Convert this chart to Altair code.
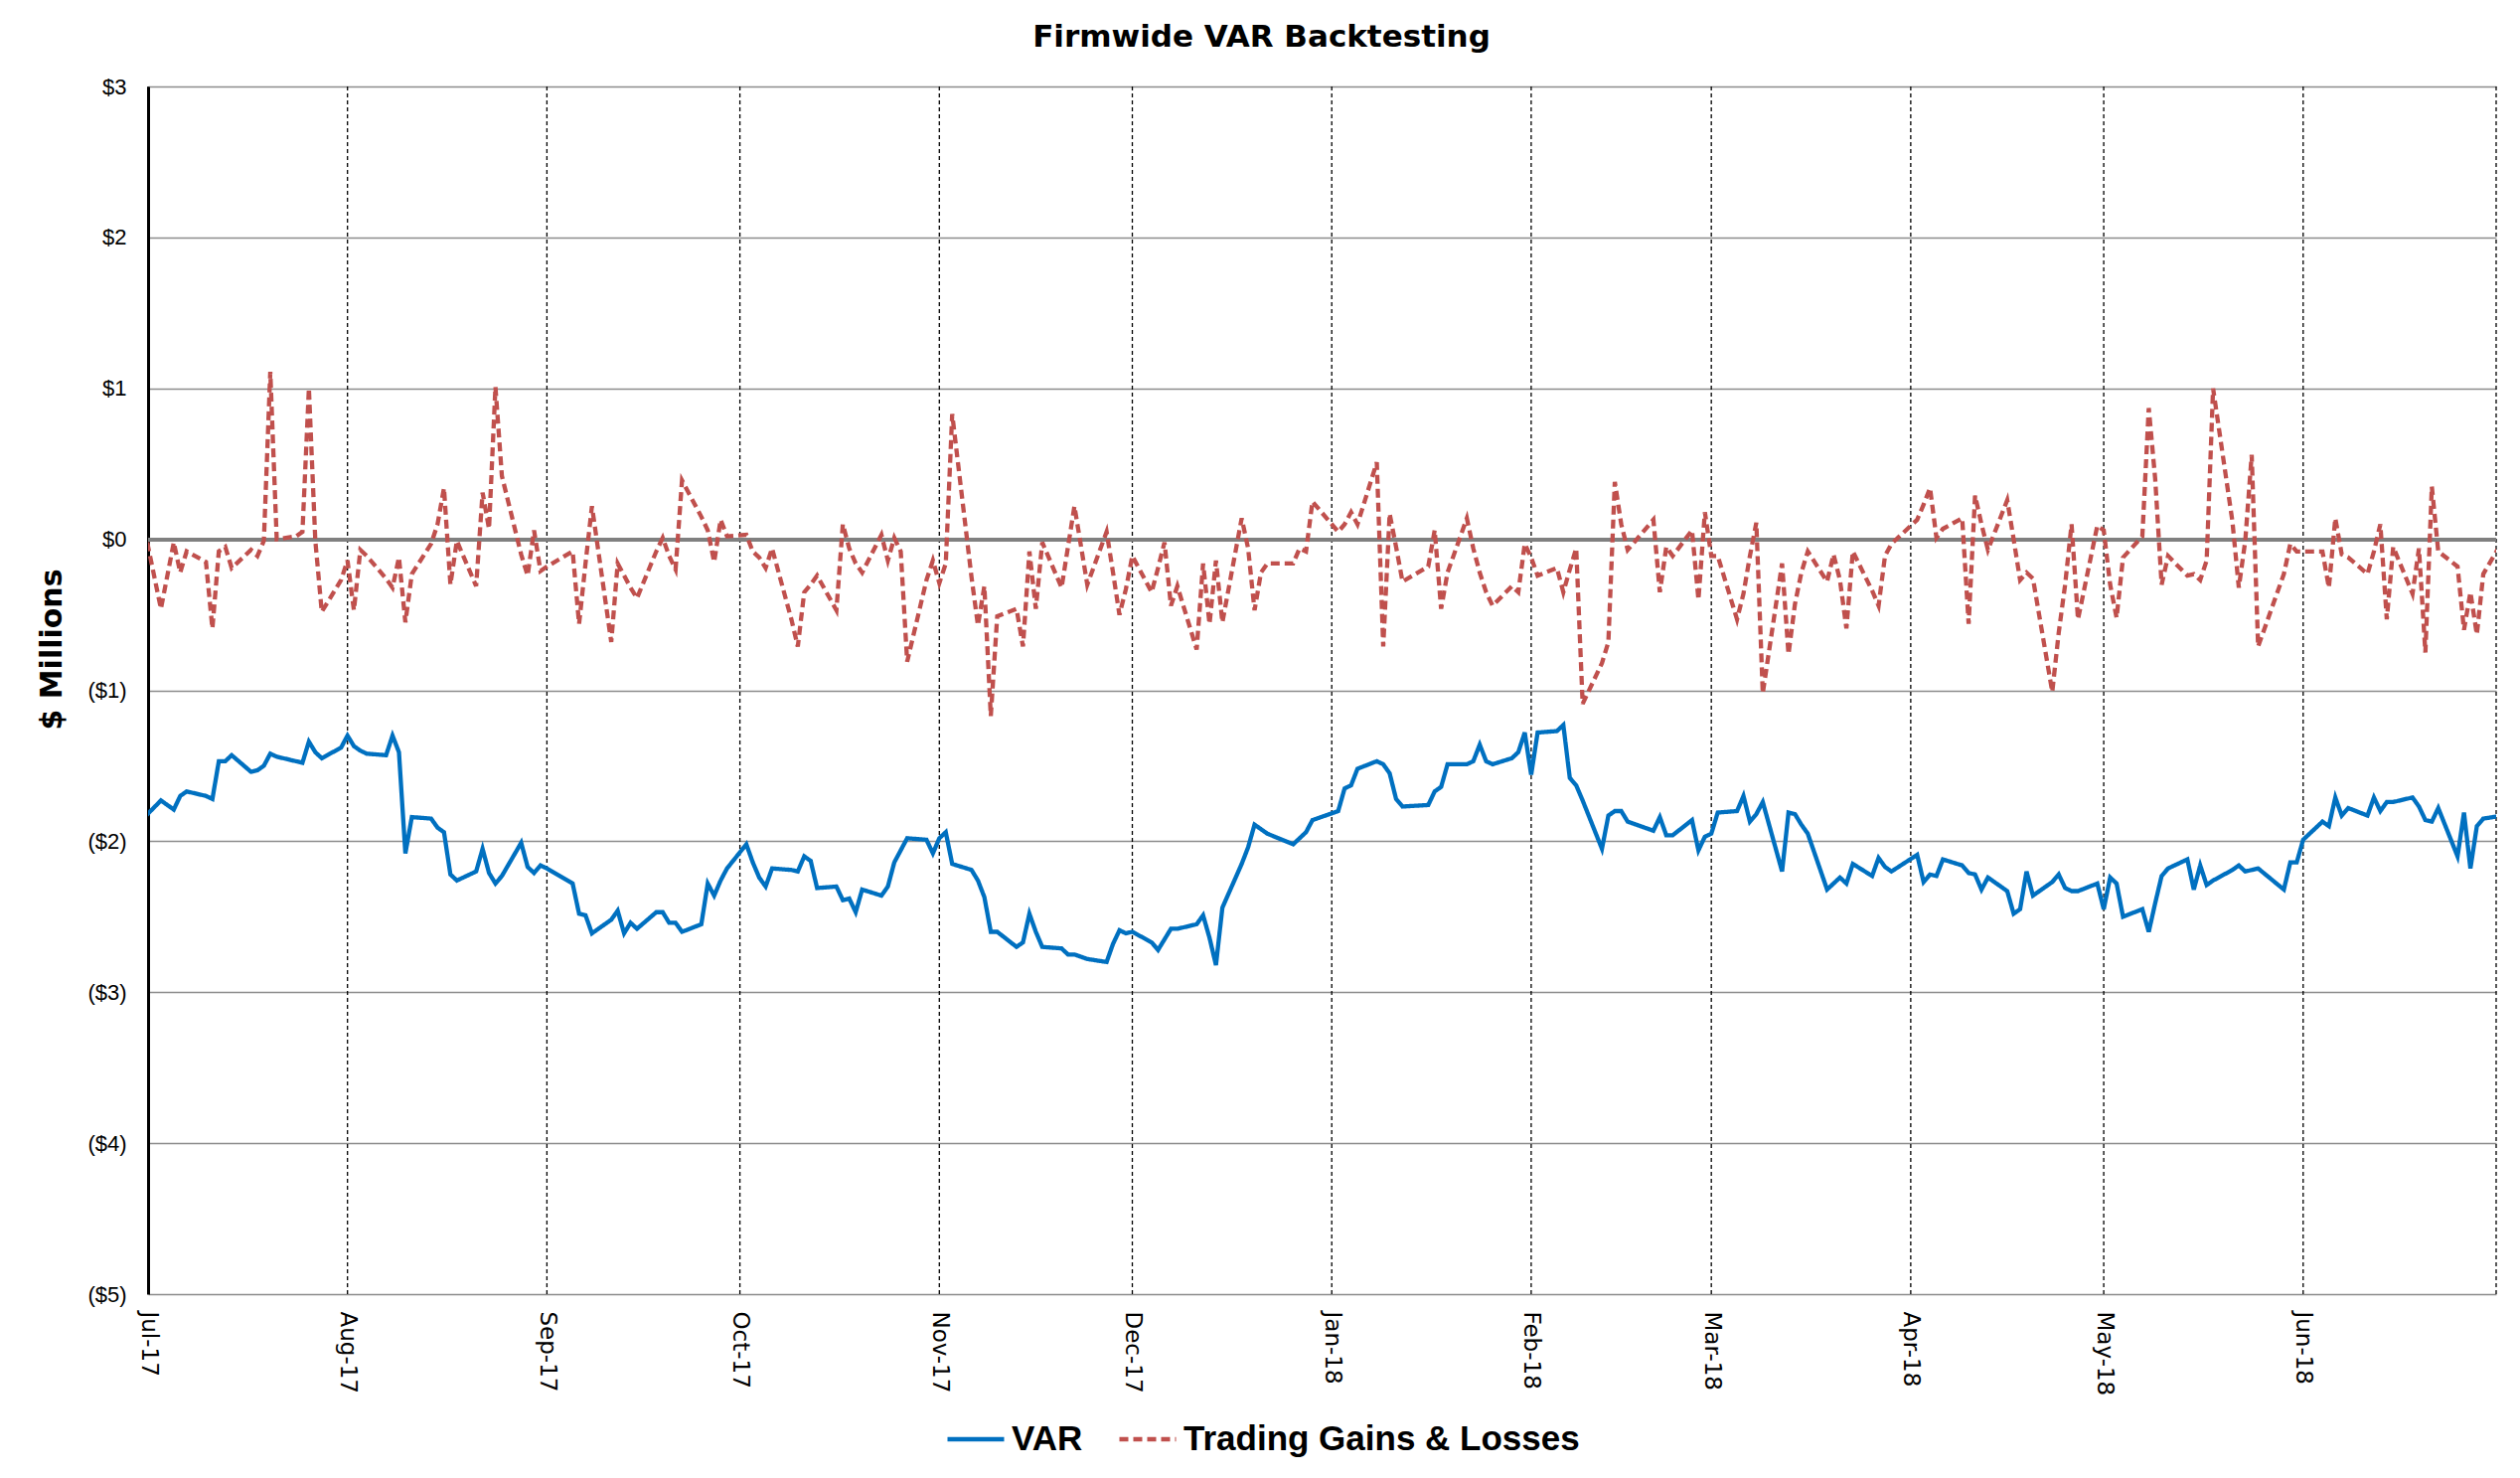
import altair as alt
import pandas as pd

# Exchange holidays inside the backtesting window (no P&L / VAR reported)
HOLIDAYS = ["2017-07-04", "2017-09-04", "2017-11-23", "2017-12-25", "2018-01-01",
            "2018-01-15", "2018-02-19", "2018-03-30", "2018-05-28"]

SERIES = ["VAR", "Trading Gains & Losses"]
COLORS = ["#0070C0", "#C0504D"]

# Daily 1-day VAR, $ millions (reported as a negative number)
VAR = [
    -1.86,  # Jun 30
    # Jul-17
    -1.73, -1.79, -1.70, -1.67, -1.70, -1.72, -1.47, -1.47, -1.43, -1.54,
    -1.53, -1.50, -1.42, -1.44, -1.47, -1.48, -1.34, -1.41, -1.45, -1.38,
    # Aug-17
    -1.30, -1.37, -1.40, -1.42, -1.43, -1.30, -1.41, -2.08, -1.84, -1.85,
    -1.91, -1.94, -2.22, -2.26, -2.20, -2.05, -2.21, -2.28, -2.23, -2.01,
    -2.17, -2.21, -2.16,
    # Sep-17
    -2.18, -2.28, -2.48, -2.49, -2.61, -2.52, -2.46, -2.61, -2.54, -2.58,
    -2.47, -2.47, -2.54, -2.54, -2.60, -2.55, -2.28, -2.36, -2.26, -2.18,
    # Oct-17
    -2.02, -2.14, -2.24, -2.30, -2.18, -2.19, -2.20, -2.10, -2.13, -2.31,
    -2.30, -2.39, -2.38, -2.47, -2.32, -2.36, -2.30, -2.14, -2.06, -1.98,
    -1.99, -2.08,
    # Nov-17
    -1.98, -1.94, -2.15, -2.19, -2.26, -2.37, -2.60, -2.60, -2.70, -2.67,
    -2.48, -2.60, -2.70, -2.71, -2.75, -2.75, -2.78, -2.80, -2.68, -2.59,
    -2.61,
    # Dec-17
    -2.60, -2.67, -2.72, -2.65, -2.58, -2.58, -2.55, -2.49, -2.64, -2.82,
    -2.44, -2.15, -2.04, -1.89, -1.92, -1.95, -2.02, -1.98, -1.94, -1.86,
    # Jan-18
    -1.80, -1.65, -1.63, -1.52, -1.47, -1.49, -1.55, -1.72, -1.77, -1.76,
    -1.67, -1.64, -1.49, -1.49, -1.47, -1.36, -1.47, -1.49, -1.45, -1.41,
    -1.28,
    # Feb-18
    -1.56, -1.28, -1.27, -1.23, -1.58, -1.63, -1.73, -2.05, -1.83, -1.80,
    -1.80, -1.87, -1.93, -1.84, -1.96, -1.96, -1.86, -2.06, -1.97,
    # Mar-18
    -1.95, -1.81, -1.80, -1.70, -1.87, -1.82, -1.74, -2.20, -1.81, -1.82,
    -1.89, -1.95, -2.32, -2.28, -2.24, -2.28, -2.15, -2.23, -2.11, -2.17,
    -2.20,
    # Apr-18
    -2.09, -2.27, -2.22, -2.23, -2.12, -2.16, -2.21, -2.22, -2.32, -2.24,
    -2.33, -2.48, -2.45, -2.20, -2.36, -2.27, -2.22, -2.31, -2.33, -2.33,
    -2.28,
    # May-18
    -2.45, -2.24, -2.28, -2.50, -2.45, -2.60, -2.41, -2.23, -2.18, -2.12,
    -2.32, -2.16, -2.29, -2.26, -2.19, -2.16, -2.20, -2.19, -2.18, -2.32,
    -2.14, -2.14,
    # Jun-18
    -1.99, -1.87, -1.90, -1.71, -1.83, -1.78, -1.83, -1.71, -1.80, -1.74,
    -1.74, -1.71, -1.77, -1.86, -1.87, -1.78, -2.10, -1.81, -2.18, -1.90,
    -1.85,
    -1.83,  # Jul 2
]

# Daily trading gains & losses, $ millions
PNL = [
    0.16,  # Jun 30
    # Jul-17
    -0.46, -0.02, -0.22, -0.08, -0.15, -0.59, -0.08, -0.05, -0.19, -0.07,
    -0.11, -0.01, 1.11, 0.00, 0.02, 0.05, 1.00, -0.01, -0.48, -0.27,
    # Aug-17
    -0.14, -0.47, -0.07, -0.11, -0.26, -0.32, -0.12, -0.55, -0.23, -0.03,
    0.10, 0.34, -0.30, -0.01, -0.31, 0.31, 0.07, 1.01, 0.42, -0.10,
    -0.24, 0.06, -0.21,
    # Sep-17
    -0.18, -0.08, -0.56, -0.16, 0.22, -0.68, -0.16, -0.24, -0.32, -0.39,
    -0.08, 0.01, -0.11, -0.20, 0.39, 0.15, 0.06, -0.15, 0.13, 0.02,
    # Oct-17
    0.03, -0.08, -0.12, -0.19, -0.06, -0.53, -0.71, -0.35, -0.30, -0.24,
    -0.47, 0.10, -0.06, -0.16, -0.22, 0.03, -0.14, 0.01, -0.08, -0.81,
    -0.27, -0.14,
    # Nov-17
    -0.29, -0.16, 0.83, -0.25, -0.57, -0.31, -1.17, -0.51, -0.46, -0.71,
    -0.08, -0.46, -0.02, -0.32, -0.05, 0.22, -0.30, 0.05, -0.22, -0.50,
    -0.33,
    # Dec-17
    -0.11, -0.35, -0.19, -0.02, -0.44, -0.31, -0.73, -0.16, -0.56, -0.14,
    -0.55, 0.14, -0.06, -0.47, -0.22, -0.16, -0.16, -0.06, -0.08, 0.25,
    # Jan-18
    0.05, 0.10, 0.18, 0.10, 0.51, -0.71, 0.17, -0.05, -0.28, -0.18,
    0.06, -0.46, -0.22, 0.14, -0.06, -0.22, -0.35, -0.44, -0.31, -0.35,
    -0.03,
    # Feb-18
    -0.12, -0.24, -0.19, -0.35, -0.20, -0.06, -1.09, -0.82, -0.68, 0.38,
    0.10, -0.07, 0.13, -0.35, -0.05, -0.11, 0.06, -0.40, 0.18,
    # Mar-18
    -0.11, -0.11, -0.53, -0.36, -0.11, 0.11, -1.02, -0.16, -0.76, -0.43,
    -0.22, -0.08, -0.28, -0.10, -0.27, -0.59, -0.08, -0.34, -0.44, -0.11,
    -0.03,
    # Apr-18
    0.13, 0.23, 0.34, 0.01, 0.07, 0.14, -0.56, 0.29, 0.10, -0.07,
    0.26, 0.00, -0.27, -0.22, -0.26, -1.01, -0.62, -0.30, 0.10, -0.53,
    0.09,
    # May-18
    0.06, -0.30, -0.52, -0.12, 0.02, 0.87, 0.40, -0.30, -0.11, -0.24,
    -0.23, -0.27, -0.14, 1.00, 0.12, -0.32, -0.01, 0.56, -0.71, -0.23,
    -0.03, -0.08,
    # Jun-18
    -0.08, -0.08, -0.32, 0.14, -0.10, -0.12, -0.23, -0.08, 0.10, -0.53,
    -0.05, -0.36, -0.06, -0.75, 0.35, -0.08, -0.18, -0.60, -0.35, -0.63,
    -0.23,
    -0.01,  # Jul 2
]

MONTH_LINES = ["2017-07-01", "2017-08-01", "2017-09-01", "2017-10-01", "2017-11-01",
               "2017-12-01", "2018-01-01", "2018-02-01", "2018-03-01", "2018-04-01",
               "2018-05-01", "2018-06-01", "2018-07-01"]

trading_days = [d.strftime("%Y-%m-%d")
                for d in pd.bdate_range("2017-06-30", "2018-07-02")
                if d.strftime("%Y-%m-%d") not in HOLIDAYS]
assert len(trading_days) == len(VAR) == len(PNL)

df = pd.concat([
    pd.DataFrame({"date": trading_days, "value": VAR, "series": SERIES[0]}),
    pd.DataFrame({"date": trading_days, "value": PNL, "series": SERIES[1]}),
])


def dt(s):
    y, m, d = (int(p) for p in s.split("-"))
    return alt.DateTime(year=y, month=m, date=d, utc=True)


x_scale = alt.Scale(type="utc", domain=[dt("2017-07-01"), dt("2018-07-01")])
x_axis = alt.Axis(values=[dt(m) for m in MONTH_LINES[:-1]],
                  labelExpr="utcFormat(datum.value, '%b-%y')",
                  labelAngle=90, labelAlign="left", labelBaseline="middle",
                  labelFont="DejaVu Sans", labelFontSize=23, labelColor="black",
                  labelPadding=17, ticks=False, domain=False, grid=False, title=None)

y_scale = alt.Scale(domain=[-5, 3], nice=False, zero=False)
y_axis = alt.Axis(values=list(range(-5, 4)),
                  labelExpr="datum.value < 0 ? '($' + abs(datum.value) + ')' : '$' + datum.value",
                  labelFont="Liberation Sans", labelFontSize=22, labelColor="black",
                  labelPadding=22, ticks=False,
                  domain=True, domainColor="black", domainWidth=3,
                  grid=True, gridColor="#8c8c8c", gridWidth=1.5,
                  title="$ Millions",
                  titleFont="DejaVu Sans", titleFontSize=30, titleFontWeight="bold",
                  titleColor="black", titleAngle=270, titleAlign="center",
                  titleBaseline="middle", titleX=-97, titleY=566)

legend = alt.Legend(
    title=None, orient="none", legendX=802, legendY=1330, direction="horizontal",
    symbolType="stroke", symbolSize=3249, symbolStrokeWidth=4.5,
    labelFont="Liberation Sans", labelFontWeight="bold", labelFontSize=35,
    labelColor="black", labelOffset=5, labelLimit=0, columnPadding=27, padding=0,
)

# Dotted vertical line at the start of every month
month_rules = alt.Chart(pd.DataFrame({"date": MONTH_LINES})).mark_rule(
    color="black", strokeWidth=1.3, strokeDash=[4, 3]
).encode(x=alt.X("date:T", scale=x_scale, axis=x_axis))

# Heavier break-even line
zero_line = alt.Chart(df).mark_rule(color="#808080", strokeWidth=3.5).encode(
    y=alt.datum(0, scale=y_scale, axis=y_axis)
)

lines = alt.Chart(df).mark_line(strokeWidth=4.3, clip=True).encode(
    x=alt.X("date:T", scale=x_scale, axis=x_axis),
    y=alt.Y("value:Q", scale=y_scale, axis=y_axis),
    color=alt.Color("series:N", scale=alt.Scale(domain=SERIES, range=COLORS), legend=legend),
    strokeDash=alt.StrokeDash("series:N", scale=alt.Scale(domain=SERIES, range=[[1, 0], [9, 5]]),
                              legend=legend),
)

chart = alt.layer(month_rules, zero_line, lines).properties(
    width=2363,
    height=1215,
    autosize=alt.AutoSizeParams(type="none"),
    padding={"left": 149, "top": 87, "right": 24, "bottom": 185},
    background="white",
    title=alt.TitleParams("Firmwide VAR Backtesting", font="DejaVu Sans", fontSize=31,
                          fontWeight="bold", color="black", anchor="middle", frame="group",
                          dx=-61, offset=22),
).configure_view(stroke=None)

chart.save("out.html", embed_options={"renderer": "svg", "actions": False})
